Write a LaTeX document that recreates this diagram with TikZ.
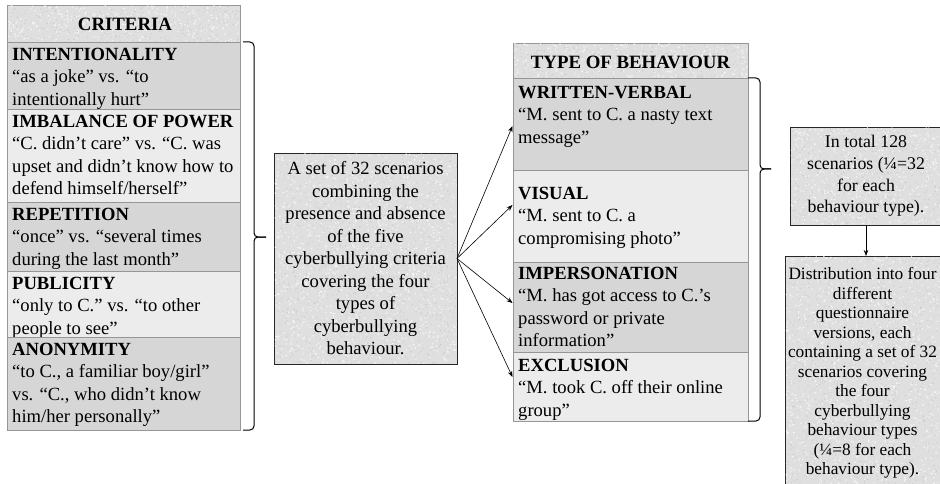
\documentclass[tikz,border=0pt]{standalone}
\usepackage{fontspec}
\setmainfont{Liberation Serif}
\usetikzlibrary{arrows.meta}
\definecolor{secdark}{RGB}{214,214,214}
\definecolor{seclight}{RGB}{236,236,236}
\definecolor{texgray}{RGB}{223,223,223}
\definecolor{speckdark}{RGB}{192,192,192}
\definecolor{linegray}{RGB}{150,150,150}
\newcommand{\fs}{\rule{0pt}{18pt}}
% granite-like speckles: #1 x0, #2 y0, #3 width, #4 height, #5 count
\newcommand{\grain}[5]{%
  \begin{scope}
    \clip (#1+0.5,#2+0.5) rectangle ++(#3-1,#4-1);
    \fill[white, opacity=0.7] \foreach \k in {1,...,#5} { ({#1+rnd*#3},{#2+rnd*#4}) rectangle ++(1.3,1.3) };
    \fill[speckdark, opacity=0.6] \foreach \k in {1,...,#5} { ({#1+rnd*#3},{#2+rnd*#4}) rectangle ++(1,1) };
  \end{scope}}
\begin{document}
\begin{tikzpicture}[x=1pt, y=-1pt,
  sec/.style={draw=linegray, line width=0.8pt, inner sep=0pt, outer sep=0pt, anchor=north west},
  txt/.style={anchor=north west, inner sep=0pt, align=left, font=\fontsize{18.6}{22.5}\selectfont},
  hdr/.style={anchor=base, inner sep=0pt, font=\fontsize{18.8}{21}\selectfont\bfseries},
  tbox/.style={draw=black!85, line width=0.8pt, fill=texgray, inner sep=0pt, outer sep=0pt, anchor=north west},
  btxt/.style={inner sep=0pt, align=center},
  arr/.style={-{Stealth[length=6pt,width=4.5pt]}, line width=0.6pt},
  brc/.style={line width=1pt, rounded corners=4pt}
]
\pgfmathsetseed{11}
\useasboundingbox (0,0) rectangle (940,484);
\clip (0,0) rectangle (940,484);

% ---------- CRITERIA ----------
\node[sec, fill=texgray, minimum width=233pt, minimum height=37pt] (ch) at (7,5) {};
\grain{7}{5}{233}{37}{300}
\node[hdr] (cht) at (125,30.5) {CRITERIA};
\node[sec, fill=secdark, minimum width=233pt, minimum height=67pt] (c1) at (7,42) {};
\node[txt] (c1t) at (12,42) {\fs\textbf{INTENTIONALITY}\\“as a joke” vs. “to\\intentionally hurt”};
\node[sec, fill=seclight, minimum width=233pt, minimum height=93pt] (c2) at (7,109) {};
\node[txt] (c2t) at (12,109) {\fs\textbf{IMBALANCE OF POWER}\\“C. didn’t care” vs. “C. was\\upset and didn’t know how to\\defend himself/herself”};
\node[sec, fill=secdark, minimum width=233pt, minimum height=69pt] (c3) at (7,202) {};
\node[txt] (c3t) at (12,202) {\fs\textbf{REPETITION}\\“once” vs. “several times\\during the last month”};
\node[sec, fill=seclight, minimum width=233pt, minimum height=66pt] (c4) at (7,271) {};
\node[txt] (c4t) at (12,271) {\fs\textbf{PUBLICITY}\\“only to C.” vs. “to other\\people to see”};
\node[sec, fill=secdark, minimum width=233pt, minimum height=93pt] (c5) at (7,337) {};
\node[txt] (c5t) at (12,337) {\fs\textbf{ANONYMITY}\\“to C., a familiar boy/girl”\\vs. “C., who didn’t know\\him/her personally”};

% brace 1
\draw[brc] (243,42) -- (254,42) -- (254,237) -- (266,237);
\draw[brc] (266,237) -- (254,237) -- (254,430) -- (243,430);

% ---------- MIDDLE ----------
\node[tbox, minimum width=183pt, minimum height=211pt] (mid) at (274,153) {};
\grain{274}{153}{183}{211}{1200}
\node[btxt, font=\fontsize{18.6}{22.5}\selectfont] (midt) at (mid.center)
  {A set of 32 scenarios\\combining the\\presence and absence\\of the five\\cyberbullying criteria\\covering the four\\types of\\cyberbullying\\behaviour.};

% ---------- TYPE OF BEHAVIOUR ----------
\node[sec, fill=texgray, minimum width=235pt, minimum height=35pt] (th) at (513,43) {};
\grain{513}{43}{235}{35}{290}
\node[hdr] (tht) at (630.5,68.5) {TYPE OF BEHAVIOUR};
\node[sec, fill=secdark, minimum width=235pt, minimum height=92pt] (t1) at (513,78) {};
\node[txt] (t1t) at (518,80) {\fs\textbf{WRITTEN-VERBAL}\\“M. sent to C. a nasty text\\message”};
\node[sec, fill=seclight, minimum width=235pt, minimum height=92pt] (t2) at (513,170) {};
\node[txt] (t2t) at (518,181) {\fs\textbf{VISUAL}\\“M. sent to C. a\\compromising photo”};
\node[sec, fill=secdark, minimum width=235pt, minimum height=90pt] (t3) at (513,262) {};
\node[txt] (t3t) at (518,261) {\fs\textbf{IMPERSONATION}\\“M. has got access to C.’s\\password or private\\information”};
\node[sec, fill=seclight, minimum width=235pt, minimum height=69pt] (t4) at (513,352) {};
\node[txt] (t4t) at (518,353) {\fs\textbf{EXCLUSION}\\“M. took C. off their online\\group”};

% arrows from middle box
\coordinate (a1) at (512.5,126);
\coordinate (a2) at (512.5,205);
\coordinate (a3) at (512.5,303);
\coordinate (a4) at (512.5,377);
\draw[arr] (mid.east) -- (a1);
\draw[arr] (mid.east) -- (a2);
\draw[arr] (mid.east) -- (a3);
\draw[arr] (mid.east) -- (a4);

% brace 2
\draw[brc] (748,78) -- (760,78) -- (760,169) -- (771,169);
\draw[brc] (771,169) -- (760,169) -- (760,421) -- (748,421);

% ---------- RIGHT BOXES ----------
\node[tbox, minimum width=152pt, minimum height=98pt] (tot) at (790,127) {};
\grain{790}{127}{152}{98}{470}
\node[btxt, font=\fontsize{17.8}{21.7}\selectfont] (tott) at (tot.center)
  {In total 128\\scenarios (¼=32\\for each\\behaviour type).};
\node[tbox, minimum width=155pt, minimum height=234pt] (dist) at (785,256) {};
\grain{785}{256}{155}{234}{1100}
\node[btxt, font=\fontsize{17.3}{19.5}\selectfont] (distt) at (dist.center)
  {Distribution into four\\different\\questionnaire\\versions, each\\containing a set of 32\\scenarios covering\\the four\\cyberbullying\\behaviour types\\(¼=8 for each\\behaviour type).};
\draw[arr] (tot.south) -- (tot.south |- dist.north);
\end{tikzpicture}
\end{document}
